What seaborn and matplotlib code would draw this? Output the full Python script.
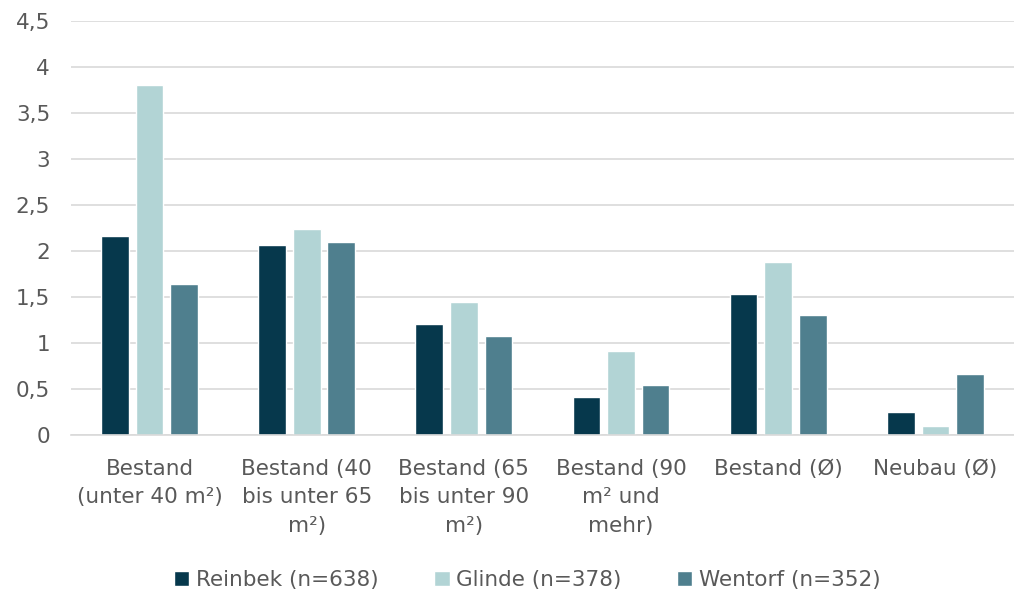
import pandas as pd
import matplotlib.pyplot as plt
import seaborn as sns
from matplotlib.ticker import FuncFormatter, MultipleLocator

# Daten
categories = ['Bestand\n(unter 40 m²)', 'Bestand (40\nbis unter 65\nm²)', 'Bestand (65\nbis unter 90\nm²)',
              'Bestand (90\nm² und\nmehr)', 'Bestand (Ø)', 'Neubau (Ø)']
series = ['Reinbek (n=638)', 'Glinde (n=378)', 'Wentorf (n=352)']
reinbek = [2.16, 2.07, 1.21, 0.41, 1.53, 0.25]
glinde = [3.80, 2.24, 1.45, 0.91, 1.88, 0.10]
wentorf = [1.64, 2.10, 1.08, 0.54, 1.30, 0.66]
colors = ['#06384C', '#B2D4D5', '#4F7F8E']

rows = []
for name, vals in zip(series, [reinbek, glinde, wentorf]):
    for cat, v in zip(categories, vals):
        rows.append({'Kategorie': cat, 'Ort': name, 'Wert': v})
df = pd.DataFrame(rows)

sns.set_style('white')
plt.rcParams['font.family'] = ['DejaVu Sans']
text_col = '#595959'

fig, ax = plt.subplots(figsize=(10.14, 5.96), dpi=100)
fig.subplots_adjust(left=0.07, right=1.0, top=0.965, bottom=0.27)

sns.barplot(data=df, x='Kategorie', y='Wert', hue='Ort', order=categories, hue_order=series,
            palette=colors, width=0.66, gap=0.2, ax=ax, errorbar=None, saturation=1)

ax.set_ylim(0, 4.5)
ax.set_xlim(-0.5, 5.5)
ax.yaxis.set_major_locator(MultipleLocator(0.5))
ax.yaxis.set_major_formatter(FuncFormatter(lambda v, p: f'{v:g}'.replace('.', ',')))
ax.grid(axis='y', color='#D9D9D9', linewidth=1.2)
ax.set_axisbelow(True)
for s in ['top', 'right', 'left']:
    ax.spines[s].set_visible(False)
ax.spines['bottom'].set_color('#D9D9D9')
ax.spines['bottom'].set_linewidth(1.2)
ax.tick_params(axis='both', length=0, labelsize=15.5, labelcolor=text_col)
ax.tick_params(axis='y', pad=15)
ax.tick_params(axis='x', pad=17)
ax.set_xlabel('')
ax.set_ylabel('')
for lbl in ax.get_xticklabels():
    lbl.set_linespacing(1.55)

ax.legend(loc='upper center', bbox_to_anchor=(0.484, -0.28), ncol=3, frameon=False,
          fontsize=15.5, labelcolor=text_col, handlelength=0.7, handleheight=0.7,
          handletextpad=0.3, columnspacing=2.6)

plt.savefig('out.png', dpi=100)
